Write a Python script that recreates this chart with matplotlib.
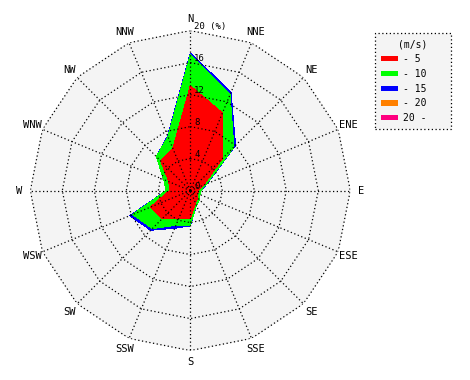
import numpy as np
import matplotlib
matplotlib.use("Agg")
import matplotlib.pyplot as plt
from matplotlib.patches import Patch

# ---- data (percent frequency per direction and speed class) ----
directions = ["N", "NNE", "NE", "ENE", "E", "ESE", "SE", "SSE",
              "S", "SSW", "SW", "WSW", "W", "WNW", "NW", "NNW"]
speed_labels = ["- 5", "- 10", "- 15", "- 20", "20 -"]
speed_colors = ["#ff0000", "#00ff00", "#0000ff", "#ff8000", "#ff0080"]

freq_5 = [13.1, 10.5, 5.7, 1.8, 1.0, 1.0, 1.3, 1.7, 3.5, 3.8, 5.0, 5.4, 2.6, 2.9, 5.2, 5.7]
freq_10 = [3.9, 2.5, 2.0, 0.4, 0.3, 0.3, 0.3, 0.3, 0.8, 0.9, 1.7, 2.4, 0.4, 0.7, 0.8, 1.6]
freq_15 = [0.2, 0.3, 0.3, 0.1, 0.0, 0.0, 0.0, 0.0, 0.1, 0.4, 0.3, 0.4, 0.0, 0.0, 0.0, 0.1]
freq_20 = [0.0] * 16
freq_20p = [0.0] * 16

ring_values = [4, 8, 12, 16, 20]
r_max = 20

mono = "DejaVu Sans Mono"

# ---- figure ----
W, H = 470, 380
fig = plt.figure(figsize=(W / 100, H / 100), dpi=100, facecolor="white")

cx, cy, rad = 190.3, 190.6, 160.0
ax = fig.add_axes([(cx - rad) / W, (H - cy - rad) / H, 2 * rad / W, 2 * rad / H],
                  projection="polar")
ax.set_theta_zero_location("N")
ax.set_theta_direction(-1)
ax.set_ylim(0, r_max)
ax.patch.set_visible(False)
ax.spines["polar"].set_visible(False)
ax.grid(False)
ax.set_xticks([])
ax.set_yticks([])

theta = np.deg2rad(np.arange(16) * 22.5)
theta_c = np.append(theta, theta[0])

# background polygon
ax.fill(theta_c, [r_max] * 17, color="#f4f4f4", zorder=0, lw=0, antialiased=False)

# stacked layers, outermost first
layers = [freq_5, freq_10, freq_15, freq_20, freq_20p]
cum = np.cumsum(np.array(layers), axis=0)
for i in range(len(layers) - 1, -1, -1):
    r = np.append(cum[i], cum[i][0])
    ax.fill(theta_c, r, color=speed_colors[i], lw=0, antialiased=False,
            zorder=2 + (5 - i) * 0.1)

# polygon grid
dot = dict(color="black", lw=0.9, ls=(0, (1, 2)), zorder=5)
for rv in ring_values:
    ax.plot(theta_c, [rv] * 17, **dot)
for t in theta:
    ax.plot([t, t], [0, r_max], **dot)

# direction labels
for t, name in zip(theta, directions):
    ax.text(t, 21.4, name, ha="center", va="center", family=mono, fontsize=7.5)

# ring labels
for rv in [0] + ring_values:
    txt = str(rv) if rv < r_max else "20 (%)"
    ax.annotate(txt, xy=(0, rv), xytext=(4, 4), textcoords="offset pixels",
                ha="left", va="center", family=mono, fontsize=6.5, zorder=6)

# legend
handles = [Patch(facecolor=c, edgecolor="none") for c in speed_colors]
leg = fig.legend(handles, speed_labels, title="(m/s)", loc="upper left",
                 bbox_to_anchor=(375 / W, 1 - 37 / H, 76 / W, 0.01),
                 mode="expand", borderaxespad=0,
                 prop={"family": mono, "size": 7},
                 title_fontproperties={"family": mono, "size": 7},
                 handlelength=1.8, handleheight=0.45, handletextpad=0.5,
                 labelspacing=0.5, borderpad=0.6, fancybox=False,
                 facecolor="#f4f4f4", edgecolor="black", framealpha=1)
leg.get_frame().set_linestyle((0, (1, 2)))
leg.get_frame().set_linewidth(0.9)

fig.savefig("out.png", dpi=100)
